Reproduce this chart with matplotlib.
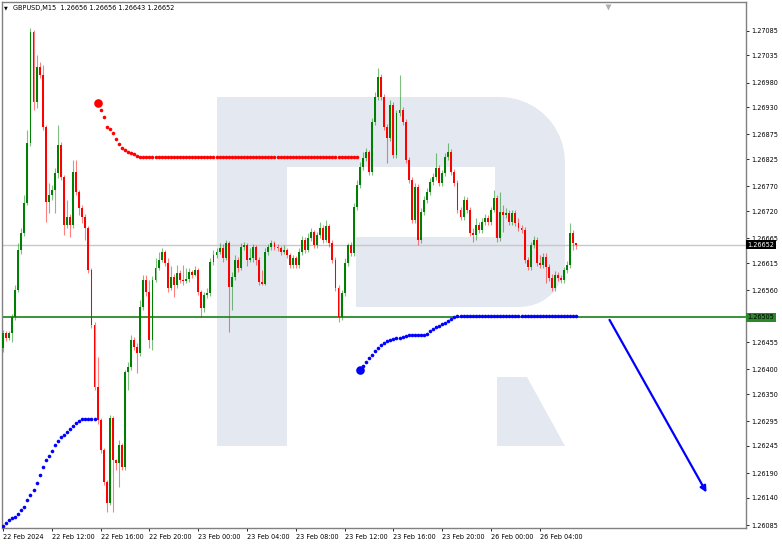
import matplotlib
matplotlib.use("Agg")
import matplotlib.pyplot as plt
from matplotlib.patches import Polygon, FancyArrowPatch
import numpy as np

plt.rcParams['font.family'] = ['DejaVu Sans']

# --- data (GBPUSD M15) ---
first_open = 1.26443
closes = [
    1.26473, 1.26463, 1.26473, 1.26506, 1.26560, 1.26641, 1.26676, 1.26736, 1.26858, 1.27082,
    1.26941, 1.27011, 1.26995, 1.26890, 1.26738, 1.26753, 1.26763, 1.26797, 1.26854, 1.26789,
    1.26692, 1.26708, 1.26692, 1.26799, 1.26759, 1.26726, 1.26708, 1.26686, 1.26601, 1.26490,
    1.26364, 1.26297, 1.26237, 1.26172, 1.26129, 1.26301, 1.26216, 1.26210, 1.26247, 1.26202,
    1.26394, 1.26405, 1.26459, 1.26445, 1.26433, 1.26526, 1.26581, 1.26556, 1.26459, 1.26581,
    1.26605, 1.26621, 1.26637, 1.26615, 1.26564, 1.26587, 1.26570, 1.26595, 1.26581, 1.26578,
    1.26583, 1.26597, 1.26591, 1.26601, 1.26556, 1.26524, 1.26550, 1.26554, 1.26617, 1.26631,
    1.26637, 1.26645, 1.26625, 1.26655, 1.26566, 1.26587, 1.26621, 1.26605, 1.26647, 1.26651,
    1.26621, 1.26625, 1.26647, 1.26621, 1.26577, 1.26573, 1.26637, 1.26647, 1.26655, 1.26647,
    1.26645, 1.26637, 1.26641, 1.26631, 1.26611, 1.26625, 1.26611, 1.26637, 1.26661, 1.26641,
    1.26666, 1.26678, 1.26651, 1.26672, 1.26686, 1.26661, 1.26690, 1.26655, 1.26621, 1.26564,
    1.26506, 1.26554, 1.26615, 1.26651, 1.26635, 1.26728, 1.26773, 1.26809, 1.26827, 1.26840,
    1.26799, 1.26900, 1.26951, 1.26991, 1.26951, 1.26890, 1.26868, 1.26935, 1.26833, 1.26918,
    1.26924, 1.26900, 1.26823, 1.26783, 1.26702, 1.26769, 1.26661, 1.26718, 1.26742, 1.26759,
    1.26779, 1.26789, 1.26807, 1.26777, 1.26797, 1.26829, 1.26840, 1.26799, 1.26777, 1.26722,
    1.26708, 1.26742, 1.26722, 1.26676, 1.26672, 1.26692, 1.26682, 1.26698, 1.26706, 1.26698,
    1.26722, 1.26746, 1.26666, 1.26718, 1.26712, 1.26716, 1.26698, 1.26716, 1.26696, 1.26686,
    1.26682, 1.26621, 1.26607, 1.26651, 1.26661, 1.26615, 1.26611, 1.26627, 1.26607, 1.26585,
    1.26564, 1.26591, 1.26585, 1.26581, 1.26601, 1.26611, 1.26676, 1.26656, 1.26652,
]
highs = [
    1.26479, 1.26477, 1.26477, 1.26512, 1.26570, 1.26655, 1.26686, 1.26753, 1.26884, 1.27090,
    1.27086, 1.27036, 1.27022, 1.27016, 1.26894, 1.26777, 1.26773, 1.26807, 1.26894, 1.26860,
    1.26793, 1.26742, 1.26714, 1.26823, 1.26823, 1.26763, 1.26732, 1.26714, 1.26690, 1.26605,
    1.26496, 1.26425, 1.26301, 1.26241, 1.26176, 1.26307, 1.26305, 1.26218, 1.26257, 1.26251,
    1.26398, 1.26415, 1.26469, 1.26465, 1.26453, 1.26540, 1.26591, 1.26591, 1.26581, 1.26589,
    1.26625, 1.26637, 1.26645, 1.26641, 1.26625, 1.26609, 1.26593, 1.26611, 1.26601, 1.26611,
    1.26605, 1.26605, 1.26601, 1.26609, 1.26605, 1.26560, 1.26556, 1.26564, 1.26625, 1.26641,
    1.26645, 1.26655, 1.26653, 1.26661, 1.26659, 1.26597, 1.26631, 1.26627, 1.26655, 1.26657,
    1.26655, 1.26645, 1.26653, 1.26651, 1.26627, 1.26601, 1.26645, 1.26653, 1.26661, 1.26659,
    1.26653, 1.26649, 1.26651, 1.26645, 1.26635, 1.26631, 1.26629, 1.26645, 1.26670, 1.26668,
    1.26676, 1.26686, 1.26682, 1.26678, 1.26698, 1.26692, 1.26702, 1.26694, 1.26661, 1.26627,
    1.26570, 1.26560, 1.26625, 1.26655, 1.26657, 1.26736, 1.26783, 1.26819, 1.26840, 1.26848,
    1.26844, 1.26908, 1.26961, 1.27009, 1.26997, 1.26957, 1.26896, 1.26945, 1.26941, 1.26924,
    1.26995, 1.26931, 1.26906, 1.26829, 1.26789, 1.26777, 1.26775, 1.26726, 1.26750, 1.26767,
    1.26787, 1.26797, 1.26837, 1.26813, 1.26803, 1.26837, 1.26858, 1.26846, 1.26805, 1.26783,
    1.26728, 1.26750, 1.26748, 1.26728, 1.26686, 1.26706, 1.26698, 1.26706, 1.26714, 1.26712,
    1.26728, 1.26763, 1.26753, 1.26759, 1.26732, 1.26726, 1.26722, 1.26722, 1.26722, 1.26706,
    1.26692, 1.26688, 1.26627, 1.26657, 1.26670, 1.26668, 1.26631, 1.26635, 1.26635, 1.26613,
    1.26593, 1.26599, 1.26597, 1.26591, 1.26607, 1.26619, 1.26696, 1.26682, 1.26656,
]
lows = [
    1.26435, 1.26457, 1.26459, 1.26455, 1.26500, 1.26556, 1.26633, 1.26670, 1.26732, 1.26852,
    1.26924, 1.26929, 1.26989, 1.26884, 1.26698, 1.26716, 1.26742, 1.26716, 1.26787, 1.26783,
    1.26672, 1.26686, 1.26668, 1.26686, 1.26753, 1.26712, 1.26696, 1.26661, 1.26595, 1.26483,
    1.26358, 1.26289, 1.26231, 1.26166, 1.26111, 1.26125, 1.26111, 1.26196, 1.26162, 1.26196,
    1.26196, 1.26358, 1.26398, 1.26439, 1.26392, 1.26427, 1.26520, 1.26548, 1.26443, 1.26439,
    1.26577, 1.26601, 1.26617, 1.26609, 1.26556, 1.26560, 1.26546, 1.26564, 1.26574, 1.26570,
    1.26574, 1.26577, 1.26585, 1.26589, 1.26550, 1.26506, 1.26516, 1.26544, 1.26548, 1.26611,
    1.26625, 1.26633, 1.26617, 1.26621, 1.26475, 1.26520, 1.26581, 1.26597, 1.26601, 1.26641,
    1.26609, 1.26617, 1.26617, 1.26611, 1.26570, 1.26570, 1.26570, 1.26631, 1.26641, 1.26641,
    1.26639, 1.26631, 1.26633, 1.26625, 1.26605, 1.26605, 1.26605, 1.26605, 1.26631, 1.26635,
    1.26637, 1.26659, 1.26645, 1.26645, 1.26666, 1.26655, 1.26657, 1.26647, 1.26615, 1.26558,
    1.26496, 1.26500, 1.26548, 1.26609, 1.26629, 1.26629, 1.26722, 1.26767, 1.26803, 1.26821,
    1.26793, 1.26793, 1.26894, 1.26945, 1.26945, 1.26884, 1.26817, 1.26862, 1.26827, 1.26827,
    1.26912, 1.26894, 1.26817, 1.26777, 1.26696, 1.26696, 1.26651, 1.26655, 1.26712, 1.26736,
    1.26753, 1.26773, 1.26783, 1.26771, 1.26771, 1.26791, 1.26823, 1.26793, 1.26771, 1.26716,
    1.26702, 1.26702, 1.26716, 1.26670, 1.26657, 1.26661, 1.26676, 1.26676, 1.26692, 1.26692,
    1.26692, 1.26718, 1.26657, 1.26659, 1.26678, 1.26706, 1.26692, 1.26692, 1.26690, 1.26680,
    1.26676, 1.26615, 1.26601, 1.26601, 1.26645, 1.26609, 1.26605, 1.26605, 1.26574, 1.26579,
    1.26558, 1.26558, 1.26579, 1.26574, 1.26574, 1.26595, 1.26605, 1.26641, 1.26643,
]

# indicator dots (one per bar)
blue_start = 0
blue_dots = [
    1.26083, 1.26089, 1.26095, 1.26099, 1.26101, 1.26107, 1.26115, 1.26121, 1.26136, 1.26146,
    1.26156, 1.26170, 1.26186, 1.26202, 1.26216, 1.26225, 1.26235, 1.26247, 1.26255, 1.26263,
    1.26267, 1.26273, 1.26279, 1.26285, 1.26291, 1.26295, 1.26299, 1.26299, 1.26299, 1.26299,
    1.26299,
]
red_start = 31
red_dots = [1.26939, 1.26925, 1.26911, 1.26890, 1.26886, 1.26878, 1.26866, 1.26856, 1.26848,
            1.26844, 1.26840, 1.26838, 1.26836, 1.26832] + [1.26830] * 72
blue2_start = 117
blue2_dots = [1.26399, 1.26407, 1.26415, 1.26423, 1.26429, 1.26437, 1.26443, 1.26449, 1.26453,
              1.26457, 1.26459, 1.26461, 1.26463, 1.26463, 1.26465, 1.26467, 1.26469, 1.26469,
              1.26469, 1.26469, 1.26469, 1.26469, 1.26471, 1.26477, 1.26481, 1.26485, 1.26488,
              1.26492, 1.26494, 1.26498, 1.26502, 1.26506] + [1.26508] * 40

support_level = 1.26505
last_price = 1.26652
arrow_x = [198.4, 231.1]
arrow_y = [1.26505, 1.26146]

xtick_pos = [0, 16, 32, 48, 64, 80, 96, 112, 128, 144, 160, 176]
xtick_labels = ["22 Feb 2024", "22 Feb 12:00", "22 Feb 16:00", "22 Feb 20:00", "23 Feb 00:00",
                "23 Feb 04:00", "23 Feb 08:00", "23 Feb 12:00", "23 Feb 16:00", "23 Feb 20:00",
                "26 Feb 00:00", "26 Feb 04:00"]
ytick_labels = ["1.27085", "1.27035", "1.26980", "1.26930", "1.26875", "1.26825", "1.26770",
                "1.26720", "1.26665", "1.26615", "1.26560", "1.26455", "1.26400", "1.26350",
                "1.26295", "1.26245", "1.26190", "1.26140", "1.26085"]

W, H = 782, 544
fig = plt.figure(figsize=(W / 100, H / 100), dpi=100)
ax = fig.add_axes([2 / W, 16 / H, 744 / W, 526 / H])
ax.set_xlim(-0.33, 243.6)
ax.set_ylim(1.26079, 1.27143)


def px(x, y):
    # pixel of the picture -> axes fraction (for the watermark only)
    return ((x - 2) / 744.0, (528 - y) / 526.0)


def arc(cx, cy, r, a0, a1, n=12):
    t = np.radians(np.linspace(a0, a1, n))
    return [(cx + r * np.cos(a), cy - r * np.sin(a)) for a in t]


wm = "#e4e9f1"
body = [(217, 97), (500, 97)] + arc(500, 162, 65, 90, 0) + [(565, 262)] + arc(520, 262, 45, 0, -90) + \
       [(356, 307), (356, 237), (495, 237), (495, 167), (287, 167), (287, 446), (217, 446)]
ax.add_patch(Polygon([px(*p) for p in body], closed=True, transform=ax.transAxes,
                     facecolor=wm, edgecolor="none", zorder=0))
leg = [(497, 377), (527, 377), (565, 446), (497, 446)]
ax.add_patch(Polygon([px(*p) for p in leg], closed=True, transform=ax.transAxes,
                     facecolor=wm, edgecolor="none", zorder=0))

# horizontal lines
ax.axhline(last_price, color="#c8c8c8", lw=1.0, zorder=1)
ax.axhline(support_level, color="#2a8a2a", lw=1.3, zorder=1)

# candles
n = len(closes)
idx = np.arange(n)
opens = [first_open] + closes[:-1]
for i in range(n):
    o, c = opens[i], closes[i]
    hi = max(highs[i], o, c)
    lo = min(lows[i], o, c)
    col = "#008000" if c >= o else "#ff0000"
    ax.vlines(i, lo, hi, color=col, lw=0.8, alpha=0.5, zorder=2)
    h = abs(c - o)
    if h < 0.00002:
        h = 0.00002
    ax.bar(i, h, bottom=min(o, c), width=0.62, color=col, edgecolor="none", zorder=3)

# indicator dots
bx = np.arange(blue_start, blue_start + len(blue_dots))
ax.plot(bx, blue_dots, "o", color="#0000ff", ms=2.6, mec="none", zorder=4)
rx = np.arange(red_start, red_start + len(red_dots))
ax.plot(rx, red_dots, "o", color="#ff0000", ms=2.6, mec="none", zorder=4)
ax.plot(rx[0], red_dots[0], "o", color="#ff0000", ms=6.2, mec="none", zorder=4)
b2x = np.arange(blue2_start, blue2_start + len(blue2_dots))
ax.plot(b2x, blue2_dots, "o", color="#0000ff", ms=2.6, mec="none", zorder=4)
ax.plot(b2x[0], blue2_dots[0], "o", color="#0000ff", ms=6.2, mec="none", zorder=4)

# forecast arrow
ax.add_patch(FancyArrowPatch((arrow_x[0], arrow_y[0]), (arrow_x[1], arrow_y[1]),
                             arrowstyle="-|>", mutation_scale=9, color="#0000ff", lw=1.6, zorder=5))

# shift marker at top
ax.plot(arrow_x[0], 1.27133, marker="v", color="#b0b0b0", ms=4, mec="none", clip_on=False, zorder=6)

# axes styling
for s in ax.spines.values():
    s.set_color("#808080")
    s.set_linewidth(1.0)
ax.yaxis.tick_right()
ax.set_yticks([float(t) for t in ytick_labels])
ax.set_yticklabels(ytick_labels)
ax.set_xticks(xtick_pos)
ax.set_xticklabels(xtick_labels)
for lbl in ax.get_xticklabels():
    lbl.set_horizontalalignment("left")
ax.tick_params(axis="both", labelsize=4.7, colors="#000000", length=2.5, width=0.6, pad=1.5)
ax.tick_params(axis="x", pad=2)

# price boxes on the right axis
ax.text(1.002, last_price, "1.26652", transform=ax.get_yaxis_transform(), fontsize=4.7,
        color="white", va="center", ha="left",
        bbox=dict(boxstyle="square,pad=0.25", facecolor="#000000", edgecolor="none"), zorder=7)
ax.text(1.002, support_level, "1.26505", transform=ax.get_yaxis_transform(), fontsize=4.7,
        color="#000000", va="center", ha="left",
        bbox=dict(boxstyle="square,pad=0.25", facecolor="#2a8a2a", edgecolor="none"), zorder=7)

# header
fig.text(4 / W, 1 - 8 / H, "\u25bc", fontsize=3.5, va="center", ha="left", color="#000000")
fig.text(13 / W, 1 - 8 / H, "GBPUSD,M15  1.26656 1.26656 1.26643 1.26652", fontsize=4.7,
         va="center", ha="left", color="#000000")

fig.savefig("out.png", dpi=100, facecolor="white")
